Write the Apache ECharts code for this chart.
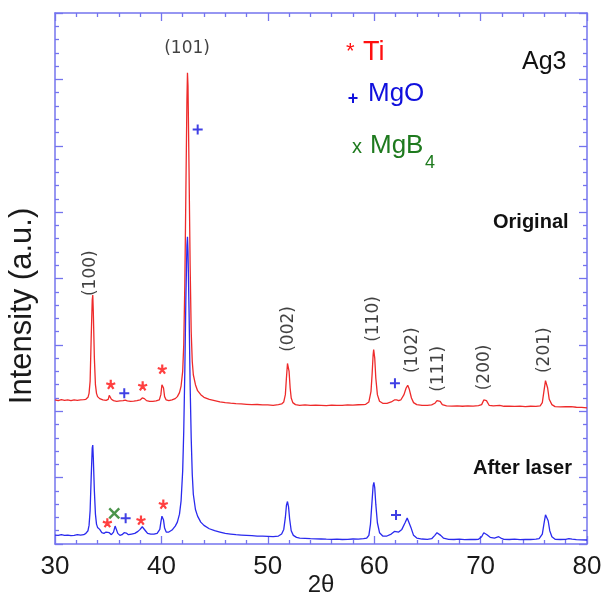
<!DOCTYPE html>
<html>
<head>
<meta charset="utf-8">
<script src="https://cdn.jsdelivr.net/npm/echarts@6/dist/echarts.min.js"></script>
<style>html,body{margin:0;padding:0;background:#fff;overflow:hidden}#c{width:605px;height:597px}</style>
</head>
<body>
<div id="c"></div>
<script>
// ---- data (2θ, intensity in arbitrary units, curves are offset) ----
const originalX = [30.0,30.3,30.6,30.9,31.2,31.5,31.8,32.1,32.4,32.7,32.9,33.1,33.2,33.3,33.4,33.5,33.55,33.6,33.7,33.8,33.9,34.0,34.2,34.5,34.8,35.0,35.1,35.2,35.3,35.5,35.8,36.1,36.4,36.6,36.8,37.1,37.4,37.7,38.0,38.2,38.3,38.4,38.6,38.9,39.2,39.5,39.8,39.95,40.05,40.12,40.2,40.3,40.45,40.7,41.0,41.3,41.5,41.7,41.85,42.0,42.1,42.2,42.3,42.4,42.45,42.5,42.6,42.7,42.8,42.9,43.0,43.2,43.4,43.7,44.0,44.5,45.0,45.5,46.0,46.5,47.0,47.5,48.0,48.5,49.0,49.5,50.0,50.5,51.0,51.3,51.5,51.65,51.75,51.85,51.9,52.0,52.1,52.2,52.35,52.6,53.0,53.5,54.0,54.5,55.0,55.5,56.0,56.5,57.0,57.5,58.0,58.5,59.0,59.2,59.5,59.7,59.8,59.9,59.95,60.05,60.15,60.3,60.5,60.8,61.2,61.6,61.9,62.1,62.3,62.5,62.8,63.0,63.15,63.3,63.5,63.7,64.0,64.5,65.0,65.4,65.7,65.9,66.05,66.2,66.4,66.8,67.3,67.8,68.3,68.8,69.3,69.8,70.1,70.3,70.42,70.55,70.8,71.2,71.5,71.8,72.2,72.7,73.2,73.7,74.2,74.7,75.2,75.6,75.8,75.95,76.1,76.15,76.3,76.45,76.7,77.0,77.5,78.0,78.5,79.0,79.5,80.0];
const originalY = [2.170,2.160,2.175,2.165,2.170,2.160,2.172,2.165,2.170,2.175,2.180,2.210,2.270,2.450,3.100,3.680,3.750,3.500,2.800,2.400,2.270,2.220,2.190,2.170,2.165,2.180,2.240,2.220,2.180,2.160,2.150,2.155,2.160,2.168,2.155,2.150,2.152,2.160,2.170,2.200,2.210,2.190,2.160,2.150,2.150,2.155,2.170,2.250,2.400,2.430,2.350,2.220,2.170,2.160,2.170,2.190,2.220,2.280,2.380,2.600,3.000,3.900,5.300,6.700,7.100,6.900,5.600,4.200,3.200,2.750,2.550,2.400,2.310,2.250,2.210,2.180,2.160,2.140,2.130,2.122,2.115,2.110,2.105,2.100,2.102,2.095,2.097,2.090,2.100,2.110,2.140,2.250,2.500,2.720,2.730,2.600,2.350,2.200,2.130,2.100,2.090,2.095,2.088,2.092,2.090,2.085,2.092,2.088,2.090,2.095,2.092,2.098,2.100,2.105,2.140,2.300,2.550,2.850,2.930,2.800,2.500,2.250,2.150,2.120,2.120,2.140,2.170,2.172,2.160,2.170,2.250,2.350,2.390,2.330,2.200,2.130,2.100,2.088,2.090,2.095,2.120,2.160,2.180,2.150,2.100,2.080,2.078,2.082,2.075,2.080,2.078,2.085,2.100,2.170,2.200,2.160,2.090,2.080,2.085,2.090,2.075,2.078,2.072,2.078,2.070,2.075,2.072,2.080,2.130,2.300,2.460,2.470,2.350,2.180,2.100,2.070,2.065,2.068,2.070,2.060,2.058,2.050];

const laserX = [30.0,30.3,30.6,30.9,31.2,31.5,31.8,32.1,32.4,32.7,32.9,33.1,33.2,33.3,33.4,33.5,33.55,33.6,33.7,33.8,33.9,34.0,34.1,34.2,34.4,34.6,34.8,34.95,35.1,35.3,35.5,35.65,35.75,35.9,36.1,36.3,36.5,36.7,36.9,37.2,37.5,37.8,38.0,38.2,38.35,38.5,38.7,39.0,39.3,39.6,39.85,39.95,40.05,40.12,40.2,40.3,40.45,40.7,41.0,41.3,41.5,41.7,41.85,42.0,42.1,42.2,42.3,42.4,42.45,42.5,42.6,42.7,42.8,42.9,43.0,43.2,43.4,43.7,44.0,44.5,45.0,45.5,46.0,46.5,47.0,47.5,48.0,48.5,49.0,49.5,50.0,50.5,51.0,51.3,51.5,51.65,51.75,51.85,51.95,52.05,52.2,52.4,52.7,53.0,53.5,54.0,54.5,55.0,55.5,56.0,56.5,57.0,57.5,58.0,58.5,59.0,59.3,59.5,59.65,59.8,59.9,59.97,60.05,60.15,60.3,60.5,60.8,61.2,61.6,61.9,62.05,62.3,62.6,62.9,63.1,63.25,63.45,63.7,64.0,64.5,65.0,65.4,65.7,65.9,66.05,66.25,66.5,67.0,67.5,68.0,68.5,69.0,69.5,69.8,70.1,70.3,70.42,70.6,70.9,71.3,71.5,71.7,71.9,72.2,72.7,73.2,73.7,74.2,74.7,75.2,75.5,75.8,75.95,76.1,76.2,76.35,76.5,76.7,77.0,77.5,78.0,78.3,78.6,79.0,79.5,80.0];
const laserY = [0.135,0.130,0.140,0.130,0.135,0.125,0.130,0.140,0.135,0.140,0.160,0.200,0.280,0.500,1.000,1.450,1.490,1.300,0.800,0.450,0.300,0.250,0.260,0.220,0.170,0.160,0.180,0.200,0.170,0.140,0.180,0.270,0.250,0.160,0.130,0.140,0.170,0.165,0.140,0.150,0.160,0.190,0.220,0.260,0.250,0.200,0.160,0.150,0.150,0.160,0.220,0.330,0.420,0.430,0.360,0.240,0.180,0.180,0.210,0.270,0.330,0.450,0.650,1.100,1.700,2.600,3.700,4.500,4.630,4.400,3.500,2.400,1.600,1.050,0.750,0.520,0.420,0.330,0.280,0.230,0.200,0.180,0.160,0.150,0.140,0.135,0.130,0.125,0.120,0.120,0.115,0.110,0.120,0.150,0.220,0.400,0.580,0.640,0.560,0.380,0.200,0.130,0.100,0.090,0.085,0.080,0.078,0.075,0.072,0.070,0.072,0.068,0.070,0.075,0.072,0.080,0.090,0.130,0.300,0.650,0.880,0.930,0.850,0.600,0.320,0.170,0.120,0.120,0.150,0.190,0.200,0.180,0.220,0.320,0.390,0.370,0.250,0.130,0.090,0.075,0.070,0.080,0.130,0.170,0.180,0.130,0.090,0.070,0.068,0.072,0.066,0.070,0.068,0.070,0.110,0.170,0.185,0.140,0.100,0.090,0.100,0.110,0.090,0.070,0.068,0.072,0.065,0.070,0.068,0.072,0.080,0.150,0.300,0.440,0.460,0.350,0.200,0.110,0.070,0.068,0.070,0.080,0.072,0.065,0.062,0.060];

// annotation anchors (data coordinates)
const hklText = ['(100)','(101)','(002)','(110)','(102)','(111)','(200)','(201)'];
const hklX    = [33.38, 42.41, 51.93, 59.92, 63.58, 66.09, 70.41, 76.05];
const hklY    = [4.08, 7.47, 3.24, 3.39, 2.92, 2.64, 2.66, 2.92];
const hklRot  = [90, 0, 90, 90, 90, 90, 90, 90];
const tiMarks   = [[35.24,2.405],[38.24,2.384],[40.08,2.636],[34.92,0.321],[38.08,0.361],[40.18,0.602]];
const mgoMarks  = [[36.51,2.27],[43.41,6.245],[61.95,2.42],[36.64,0.387],[62.05,0.437]];
const mgb4Marks = [[35.57,0.462]];
const xTicks = [30,40,50,60,70,80];

const zip = (a,b)=>a.map((v,i)=>[v,b[i]]);
const AX = '#7474ee';
const axisCommon = (pos) => ({
  type:'value', position:pos, min:0, max:8, interval:1,
  axisLine:{show:true, onZero:false, lineStyle:{color:AX, width:1.5}},
  axisTick:{show:true, inside:true, length:8, lineStyle:{color:AX, width:1.3}},
  minorTick:{show:true, splitNumber:5, length:4, lineStyle:{color:AX, width:1.3}},
  splitLine:{show:false}, axisLabel:{show:false}
});
const xCommon = (pos, showLabel) => ({
  type:'value', position:pos, min:xTicks[0], max:xTicks[xTicks.length-1], interval:10,
  axisLine:{show:true, onZero:false, lineStyle:{color:AX, width:1.5}},
  axisTick:{show:true, inside:true, length:8, lineStyle:{color:AX, width:1.3}},
  minorTick:{show:true, splitNumber:5, length:4, lineStyle:{color:AX, width:1.3}},
  splitLine:{show:false},
  axisLabel:{show:showLabel, color:'#1a1a1a', fontSize:26, fontFamily:'Liberation Sans', margin:10}
});

const chart = echarts.init(document.getElementById('c'), null, {width:605, height:597});
const star = 'path://M0,0L0,-5M0,0L4.76,-1.55M0,0L2.94,4.05M0,0L-2.94,4.05M0,0L-4.76,-1.55';
chart.setOption({
  animation:false,
  grid:{left:55, right:18, top:13, bottom:53, containLabel:false, outerBoundsMode:'none'},
  xAxis:[Object.assign(xCommon('bottom', true), {
      name:'2θ', nameLocation:'middle', nameGap:29, nameMoveOverlap:false,
      nameTextStyle:{fontSize:24, color:'#1a1a1a', fontFamily:'Liberation Sans'}}),
    xCommon('top', false)],
  yAxis:[axisCommon('left'), axisCommon('right')],
  series:[
    {type:'line', data:zip(originalX, originalY), showSymbol:false, symbol:'none',
      lineStyle:{color:'#ee2a2a', width:1.3}, z:2},
    {type:'line', data:zip(laserX, laserY), showSymbol:false, symbol:'none',
      lineStyle:{color:'#2a2aee', width:1.3}, z:3},
    {type:'scatter', data:hklText.map((t,i)=>({value:[hklX[i],hklY[i]], name:t, label:{rotate:hklRot[i]}})),
      symbol:'circle', symbolSize:1, itemStyle:{color:'rgba(0,0,0,0)'}, z:5,
      label:{show:true, position:'inside', formatter:'{b}', color:'#111', fontSize:17, fontFamily:'DejaVu Sans'}},
    {type:'scatter', data:tiMarks, symbol:star, symbolSize:9,
      itemStyle:{color:'#ff1010', borderColor:'#ff1010', borderWidth:2.2}, z:6},
    {type:'scatter', data:mgoMarks, symbol:'path://M-5,0L5,0M0,-5L0,5', symbolSize:10,
      itemStyle:{color:'#1010dd', borderColor:'#1010dd', borderWidth:2}, z:6},
    {type:'scatter', data:mgb4Marks, symbol:'path://M-5,-5L5,5M-5,5L5,-5', symbolSize:10,
      itemStyle:{color:'#1e7a1e', borderColor:'#1e7a1e', borderWidth:2.4}, z:6}
  ],
  graphic:[
    {type:'text', x:22, y:306, rotation:Math.PI/2, style:{text:'Intensity (a.u.)', font:'31px "Liberation Sans"', fill:'#1a1a1a', textAlign:'center', textVerticalAlign:'middle'}},
    {type:'text', x:346, y:52, style:{text:'*', font:'22px "Liberation Sans"', fill:'#ff1010', textAlign:'left', textVerticalAlign:'middle'}},
    {type:'text', x:363, y:53, style:{text:'Ti', font:'27px "Liberation Sans"', fill:'#ff1010', textAlign:'left', textVerticalAlign:'middle'}},
    {type:'text', x:353, y:99, style:{text:'+', font:'bold 18px "Liberation Sans"', fill:'#1010dd', textAlign:'center', textVerticalAlign:'middle'}},
    {type:'text', x:368, y:94, style:{text:'MgO', font:'26px "Liberation Sans"', fill:'#1010dd', textAlign:'left', textVerticalAlign:'middle'}},
    {type:'text', x:357, y:147, style:{text:'x', font:'20px "Liberation Sans"', fill:'#1e7a1e', textAlign:'center', textVerticalAlign:'middle'}},
    {type:'text', x:370, y:146, style:{text:'MgB', font:'26px "Liberation Sans"', fill:'#1e7a1e', textAlign:'left', textVerticalAlign:'middle'}},
    {type:'text', x:425, y:163, style:{text:'4', font:'18px "Liberation Sans"', fill:'#1e7a1e', textAlign:'left', textVerticalAlign:'middle'}},
    {type:'text', x:522, y:62, style:{text:'Ag3', font:'25px "Liberation Sans"', fill:'#111', textAlign:'left', textVerticalAlign:'middle'}},
    {type:'text', x:493, y:222, style:{text:'Original', font:'bold 20px "Liberation Sans"', fill:'#111', textAlign:'left', textVerticalAlign:'middle'}},
    {type:'text', x:473, y:468, style:{text:'After laser', font:'bold 20px "Liberation Sans"', fill:'#111', textAlign:'left', textVerticalAlign:'middle'}}
  ]
});
</script>
</body>
</html>
